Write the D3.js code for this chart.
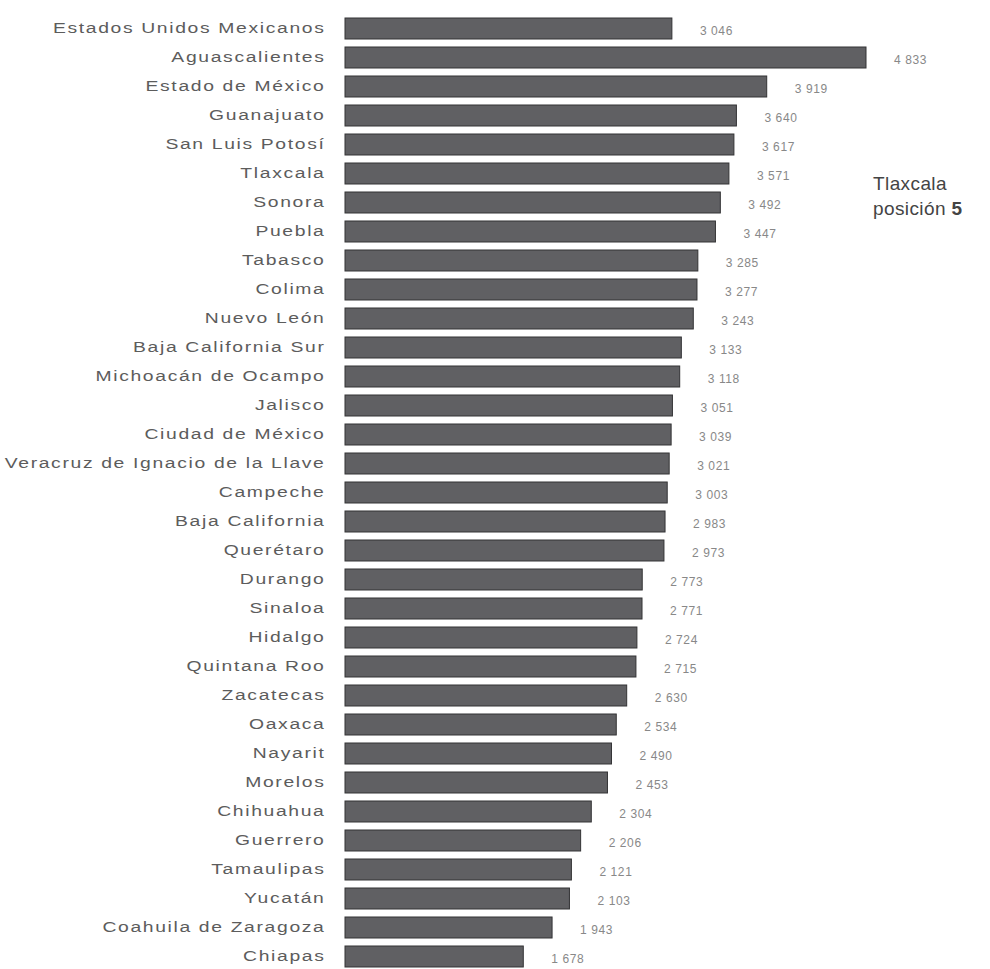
<!DOCTYPE html>
<html>
<head>
<meta charset="utf-8">
<script src="https://cdn.jsdelivr.net/npm/d3@7"></script>
<style>
  html, body { margin: 0; padding: 0; background: #fff; }
  svg { display: block; }
</style>
</head>
<body>
<svg id="chart" width="990" height="969"></svg>
<script>
const categories = [
  "Estados Unidos Mexicanos", "Aguascalientes", "Estado de México", "Guanajuato",
  "San Luis Potosí", "Tlaxcala", "Sonora", "Puebla", "Tabasco", "Colima",
  "Nuevo León", "Baja California Sur", "Michoacán de Ocampo", "Jalisco",
  "Ciudad de México", "Veracruz de Ignacio de la Llave", "Campeche",
  "Baja California", "Querétaro", "Durango", "Sinaloa", "Hidalgo",
  "Quintana Roo", "Zacatecas", "Oaxaca", "Nayarit", "Morelos", "Chihuahua",
  "Guerrero", "Tamaulipas", "Yucatán", "Coahuila de Zaragoza", "Chiapas"
];
const values = [
  3046, 4833, 3919, 3640, 3617, 3571, 3492, 3447, 3285, 3277,
  3243, 3133, 3118, 3051, 3039, 3021, 3003, 2983, 2973, 2773,
  2771, 2724, 2715, 2630, 2534, 2490, 2453, 2304, 2206, 2121,
  2103, 1943, 1678
];
const annotationLines = ["Tlaxcala", "posición "];
const annotationRank = "5";

const data = categories.map((c, i) => ({ name: c, value: values[i] }));

const svg = d3.select("#chart");

const x = d3.scaleLinear().domain([0, d3.max(values)]).range([341, 866]);
const y = d3.scaleBand().domain(categories).range([10, 975]).padding(0.276);

const fmt = v => {
  const s = String(v);
  return s.length > 3 ? s.slice(0, s.length - 3) + " " + s.slice(-3) : s;
};

// bars
svg.append("g").selectAll("rect")
  .data(data).join("rect")
  .attr("x", x(0) + 4)
  .attr("y", d => y(d.name))
  .attr("width", d => x(d.value) - x(0) - 4)
  .attr("height", y.bandwidth())
  .attr("fill", "#606063")
  .attr("stroke", "#333335")
  .attr("stroke-width", 1);

// category labels (horizontally stretched like the reference)
svg.append("g").selectAll("text")
  .data(data).join("text")
  .attr("transform", d => `translate(325.5,${y(d.name) + y.bandwidth() / 2}) scale(1.38,1)`)
  .attr("x", 0)
  .attr("y", 0)
  .attr("dy", "0.35em")
  .attr("text-anchor", "end")
  .attr("font-family", "Liberation Sans, Arial, sans-serif")
  .attr("font-size", 14)
  .attr("letter-spacing", 1.2)
  .attr("fill", "#5c5c5c")
  .text(d => d.name);

// value labels
svg.append("g").selectAll("text")
  .data(data).join("text")
  .attr("x", d => x(d.value) + 28)
  .attr("y", d => y(d.name) + y.bandwidth() / 2 + 2)
  .attr("dy", "0.35em")
  .attr("text-anchor", "start")
  .attr("font-family", "Liberation Sans, Arial, sans-serif")
  .attr("font-size", 12)
  .attr("letter-spacing", 0.6)
  .attr("fill", "#888")
  .text(d => fmt(d.value));

// annotation
const ann = svg.append("g")
  .attr("font-family", "Liberation Sans, Arial, sans-serif")
  .attr("font-size", 19)
  .attr("letter-spacing", 0.4)
  .attr("fill", "#444");
ann.append("text").attr("x", 873).attr("y", 190).text(annotationLines[0]);
const t2 = ann.append("text").attr("x", 873).attr("y", 215).text(annotationLines[1]);
t2.append("tspan").attr("font-weight", "bold").text(annotationRank);
</script>
</body>
</html>
